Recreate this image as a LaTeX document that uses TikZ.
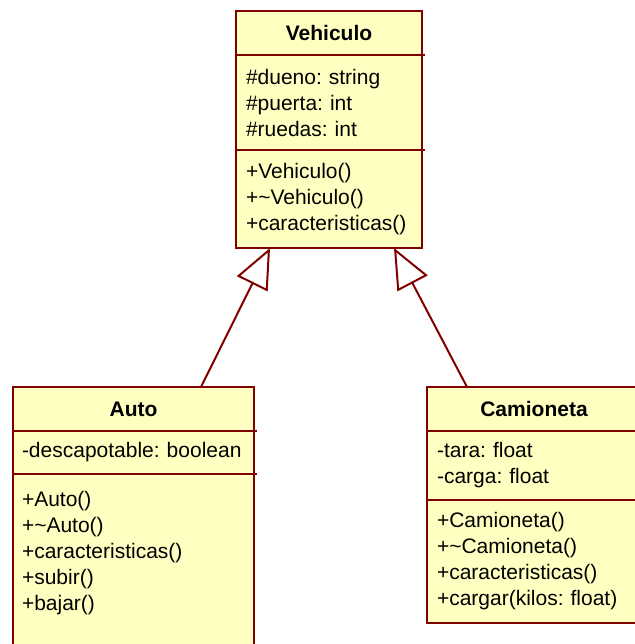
\documentclass[tikz,border=0pt]{standalone}
\usepackage{fontspec}
\setmainfont{Liberation Sans}
\usetikzlibrary{positioning}
\usetikzlibrary{arrows.meta}
\definecolor{umlfill}{RGB}{255,255,194}
\definecolor{umlline}{RGB}{128,0,0}
\frenchspacing

\begin{document}
\begin{tikzpicture}[
    x=1pt, y=-1pt,
    part/.style={draw=umlline, fill=umlfill, line width=2pt, outer sep=0pt,
        inner xsep=10pt, inner ysep=3pt, align=left,
        font=\fontsize{21}{26}\selectfont},
    title/.style={part, align=center, minimum height=44pt,
        font=\fontsize{21}{26}\selectfont\bfseries},
    inherits/.style={draw=umlline, line width=2pt,
        -{Triangle[open, length=40pt, width=34pt]}},
  ]

  \useasboundingbox (0,0) rectangle (634,644);

  % Vehiculo
  \node [title, minimum width=186pt, anchor=north west] (VH) at (236,11) {Vehiculo};
  \node [part, text width=166pt, minimum height=95pt, below=0pt of VH] (VA) {\#dueno: string\\\#puerta: int\\\#ruedas: int};
  \node [part, text width=166pt, minimum height=98pt, below=0pt of VA] (VM) {+Vehiculo()\\+\textasciitilde Vehiculo()\\+caracteristicas()};

  % Auto
  \node [title, minimum width=241pt, anchor=north west] (AH) at (13,387) {Auto};
  \node [part, inner xsep=9pt, text width=223pt, minimum height=43pt, below=0pt of AH] (AA) {-descapotable: boolean};
  \node [part, inner xsep=9pt, text width=223pt, inner ysep=17pt, below=0pt of AA] (AM) {+Auto()\\+\textasciitilde Auto()\\+caracteristicas()\\+subir()\\+bajar()\\\mbox{}\\\mbox{}};

  % Camioneta
  \node [title, minimum width=214pt, anchor=north west] (CH) at (427,387) {Camioneta};
  \node [part, text width=194pt, minimum height=69pt, below=0pt of CH] (CA) {-tara: float\\-carga: float};
  \node [part, text width=194pt, minimum height=123pt, below=0pt of CA] (CM) {+Camioneta()\\+\textasciitilde Camioneta()\\+caracteristicas()\\+cargar(kilos: float)};

  \foreach \n in {VA,VM,AA,AM,CA,CM}
    \draw [draw=umlline, line width=2pt] (\n.north east) -- ++(3,0);

  \draw [inherits] ([xshift=67.5pt]AH.north) -- ([xshift=-59pt]VM.south);
  \draw [inherits] ([xshift=-67pt]CH.north) -- ([xshift=65pt]VM.south);

\end{tikzpicture}
\end{document}
